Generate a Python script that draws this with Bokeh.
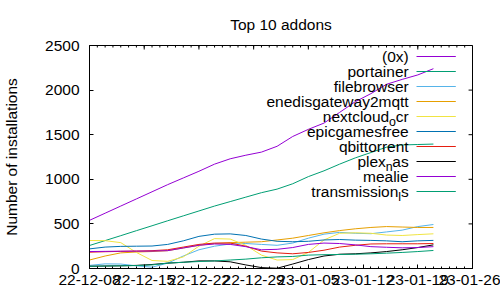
import pandas as pd
from bokeh.plotting import figure
from bokeh.models import FixedTicker, DatetimeTickFormatter, Label, Arrow
from bokeh.embed import file_html
from bokeh.resources import INLINE

# ---------------- data ----------------
dates = ["2022-12-08", "2022-12-10", "2022-12-12", "2022-12-14", "2022-12-16", "2022-12-18",
         "2022-12-20", "2022-12-22", "2022-12-24", "2022-12-26", "2022-12-28", "2022-12-30",
         "2023-01-01", "2023-01-03", "2023-01-05", "2023-01-07", "2023-01-09", "2023-01-11",
         "2023-01-13", "2023-01-15", "2023-01-17", "2023-01-19", "2023-01-21"]

s_0x = [540, 620, 700, 780, 860, 940, 1015, 1090, 1170, 1230, 1270, 1305, 1370, 1480, 1560,
        1630, 1750, 1870, 1960, 2065, 2120, 2170, 2240]
s_portainer = [258, 313, 368, 424, 479, 535, 590, 645, 700, 750, 800, 850, 890, 950, 1030,
               1095, 1170, 1240, 1300, 1360, 1385, 1390, 1395]
s_filebrowser = [35, 52, 50, 30, 15, 60, 140, 210, 250, 275, 280, 270, 260, 285, 340, 385,
                 405, 395, 390, 410, 430, 470, 493]
s_enedis = [95, 140, 175, 185, 190, 200, 230, 260, 280, 290, 295, 300, 320, 340, 370, 400,
            425, 445, 460, 470, 465, 460, 460]
s_nextcloud = [314, 312, 290, 180, 90, 80, 130, 250, 335, 330, 260, 150, 95, 100, 180, 320,
               395, 400, 395, 375, 370, 380, 389]
s_epic = [220, 240, 248, 250, 252, 270, 310, 360, 385, 388, 370, 330, 305, 300, 305, 320,
          325, 318, 315, 310, 300, 310, 315]
s_qbit = [183, 188, 192, 195, 200, 210, 240, 270, 285, 285, 250, 195, 175, 165, 180, 205,
          240, 260, 275, 277, 277, 277, 280]
s_plex = [25, 28, 30, 35, 45, 60, 70, 85, 85, 75, 40, 10, 3, 50, 100, 140, 160, 165, 175,
          190, 210, 235, 265]
s_mealie = [190, 192, 194, 195, 195, 200, 230, 260, 275, 270, 245, 210, 215, 235, 270, 285,
            280, 265, 245, 238, 232, 235, 245]
s_transmission = [25, 28, 30, 33, 40, 60, 70, 78, 85, 95, 105, 120, 130, 135, 150, 155, 157,
                  160, 165, 172, 180, 190, 202]

# legend names: (main, subscript, tail) as gnuplot renders "_x" as subscript
names = [("(0x)", "", ""), ("portainer", "", ""), ("filebrowser", "", ""),
         ("enedisgateway2mqtt", "", ""), ("nextcloud", "o", "cr"), ("epicgamesfree", "", ""),
         ("qbittorrent", "", ""), ("plex", "n", "as"), ("mealie", "", ""),
         ("transmission", "l", "s")]
series = [s_0x, s_portainer, s_filebrowser, s_enedis, s_nextcloud, s_epic, s_qbit,
          s_plex, s_mealie, s_transmission]
colors = ["#9400d3", "#009e73", "#56b4e9", "#e69f00", "#f0e442", "#0072b2", "#e51e10",
          "#000000", "#9400d3", "#009e73"]

x_tick_dates = ["2022-12-08", "2022-12-15", "2022-12-22", "2022-12-29", "2023-01-05",
                "2023-01-12", "2023-01-19", "2023-01-26"]
y_ticks = [0, 500, 1000, 1500, 2000, 2500]

title = "Top 10 addons"
y_label = "Number of installations"

# ---------------- style ----------------
FONT = "Liberation Sans"
FS = 15.5
L, R, T, B = 82, 28, 45, 32
W, H = 500, 300
FW, FH = W - L - R, H - T - B

def ms(s):
    return pd.Timestamp(s).value / 1e6

x0, x1 = ms(x_tick_dates[0]), ms(x_tick_dates[-1])
y0, y1 = y_ticks[0], y_ticks[-1]
mpx = (x1 - x0) / FW          # ms per pixel
vpx = (y1 - y0) / FH          # value per pixel

p = figure(width=W, height=H, x_axis_type="datetime", x_range=(x0, x1), y_range=(y0, y1),
           output_backend="svg", toolbar_location=None,
           min_border_left=L, min_border_right=R, min_border_top=T, min_border_bottom=B)
p.grid.visible = False
p.outline_line_color = "black"
p.background_fill_color = "white"
p.border_fill_color = "white"

p.title.text = title
p.title.align = "center"
p.title.text_font = FONT
p.title.text_font_size = f"{FS}px"
p.title.text_font_style = "normal"
p.title.text_color = "black"
p.title.standoff = 25

major = [ms(d) for d in x_tick_dates]
day = 86400000.0
minor = [x0 + i * day for i in range(int(round((x1 - x0) / day)) + 1)]
xticker = FixedTicker(ticks=major, minor_ticks=minor)
yticker = FixedTicker(ticks=y_ticks)
f = "%y-%m-%d"
fmt = DatetimeTickFormatter(days=f, months=f, years=f, hours=f, microseconds=f,
                            milliseconds=f, seconds=f, minsec=f, minutes=f, hourmin=f,
                            context=None)

xa = p.xaxis[0]
xa.ticker = xticker
xa.formatter = fmt
ya = p.yaxis[0]
ya.ticker = yticker
ya.axis_label = y_label
ya.axis_label_text_font = FONT
ya.axis_label_text_font_size = f"{FS}px"
ya.axis_label_text_font_style = "normal"
ya.axis_label_text_color = "black"
ya.axis_label_standoff = 22

for ax in [xa, ya]:
    ax.major_tick_in = 4
    ax.major_tick_out = 0
    ax.minor_tick_in = 2
    ax.minor_tick_out = 0
    ax.axis_line_color = "black"
    ax.major_tick_line_color = "black"
    ax.minor_tick_line_color = "black"
    ax.major_label_text_font = FONT
    ax.major_label_text_font_size = f"{FS}px"
    ax.major_label_text_color = "black"
xa.major_label_standoff = 6
ya.major_label_standoff = 10

# mirrored (gnuplot-style) inward ticks on the top and right borders
p.segment(x0=major, y0=[y1] * len(major), x1=major, y1=[y1 - 4 * vpx] * len(major),
          line_color="black", line_width=1)
p.segment(x0=minor, y0=[y1] * len(minor), x1=minor, y1=[y1 - 2 * vpx] * len(minor),
          line_color="black", line_width=1)
p.segment(x0=[x1] * len(y_ticks), y0=y_ticks, x1=[x1 - 4 * mpx] * len(y_ticks), y1=y_ticks,
          line_color="black", line_width=1)

# ---------------- lines ----------------
xs = pd.to_datetime(dates)
for vals, c in zip(series, colors):
    p.line(xs, vals, line_color=c, line_width=1)

# ---------------- legend (gnuplot style: text right, sample on the right) ----------------
text_right_px = 325
samp0_px, samp1_px = 333, 373
row0_px, row_step = 11, 15    # from frame top
widths = {"c": 500, "r": 333, "a": 556, "s": 500, "o": 556, "n": 556, "l": 222}
SUB = 0.8

def tw(s, size):
    return sum(widths.get(ch, 556) for ch in s) * size / 1000.0

for i, ((main, sub, tail), c) in enumerate(zip(names, colors)):
    ypx = row0_px + i * row_step
    yv = y1 - ypx * vpx
    xr = text_right_px
    if sub:
        p.add_layout(Label(x=x0 + xr * mpx, y=yv, text=tail, text_align="right",
                           text_baseline="middle", text_font=FONT, text_font_size=f"{FS}px",
                           text_color="black"))
        xr -= tw(tail, FS)
        p.add_layout(Label(x=x0 + xr * mpx, y=yv - 5 * vpx, text=sub, text_align="right",
                           text_baseline="middle", text_font=FONT,
                           text_font_size=f"{FS * SUB}px", text_color="black"))
        xr -= tw(sub, FS * SUB)
    p.add_layout(Label(x=x0 + xr * mpx, y=yv, text=main, text_align="right",
                       text_baseline="middle", text_font=FONT, text_font_size=f"{FS}px",
                       text_color="black"))
    p.add_layout(Arrow(end=None, x_start=x0 + samp0_px * mpx, y_start=yv,
                       x_end=x0 + samp1_px * mpx, y_end=yv, line_color=c, line_width=1))

open("out.html", "w").write(file_html(p, INLINE))
